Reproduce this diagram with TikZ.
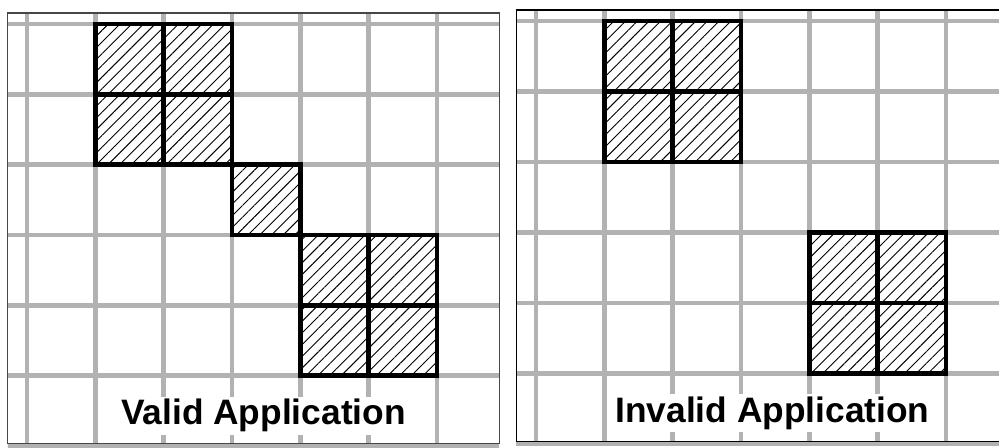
\documentclass[tikz,border=0pt]{standalone}
\usepackage{fontspec}
\usetikzlibrary{patterns.meta}
\newfontfamily\applabelfont{Liberation Sans}
\definecolor{gridc}{RGB}{178,178,178}
\definecolor{framec}{RGB}{70,70,70}
\tikzset{
  gridln/.style={draw=gridc,line width=3.4pt},
  panelfr/.style={draw=#1,line width=0.8pt},
  panelfr/.default=black,
  hatchc/.style={draw=black,line width=3.4pt,
    pattern={Lines[angle=45,distance=6.2pt,line width=0.7pt]}},
  applbl/.style={fill=white,inner sep=2pt,
    font=\applabelfont\bfseries\fontsize{26.5}{30}\selectfont},
}

\begin{document}
\begin{tikzpicture}[x=0.75pt,y=0.75pt]
  \useasboundingbox (0,0) rectangle (999,448);
  % valid
  \begin{scope}[shift={(27,424)},x={(51.25pt,0)},y={(0,-52.75pt)}]
    \begin{scope}
      \clip (-0.28,-0.156) rectangle (6.91,6.1);
      \foreach \i in {0,...,6}
        \draw[gridln] (\i,-0.3) -- (\i,6);
      \foreach \j in {0,...,6}
        \draw[gridln] (-0.3,\j) -- (7,\j);
    \end{scope}
    \draw[panelfr=framec] (-0.28,-0.156) rectangle (6.91,5.97);
    \foreach \c/\r in {1/0,2/0,1/1,2/1,3/2,4/3,5/3,4/4,5/4}
      \draw[hatchc] (\c,\r) rectangle ++(1,1);
    \node[applbl] (validlbl) at (3.46,5.57) {Valid Application};
  \end{scope}
  % invalid
  \begin{scope}[shift={(536,427)},x={(51.25pt,0)},y={(0,-52.875pt)}]
    \begin{scope}
      \clip (-0.29,-0.156) rectangle (6.8,6.1);
      \foreach \i in {0,...,6}
        \draw[gridln] (\i,-0.3) -- (\i,6);
      \foreach \j in {0,...,6}
        \draw[gridln] (-0.3,\j) -- (7,\j);
    \end{scope}
    \draw[panelfr] (-0.29,-0.156) rectangle (6.8,5.97);
    \foreach \c/\r in {1/0,2/0,1/1,2/1,4/3,5/3,4/4,5/4}
      \draw[hatchc] (\c,\r) rectangle ++(1,1);
    \node[applbl] (invalidlbl) at (3.46,5.56) {Invalid Application};
  \end{scope}
\end{tikzpicture}
\end{document}
